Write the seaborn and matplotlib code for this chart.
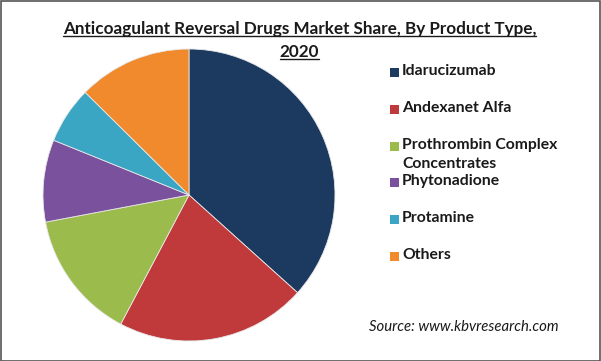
import matplotlib
matplotlib.use("Agg")
import matplotlib.pyplot as plt
import seaborn as sns
from matplotlib.patches import Rectangle
from matplotlib.lines import Line2D

# data (market share, %)
products = ['Idarucizumab', 'Andexanet Alfa', 'Prothrombin Complex\nConcentrates',
            'Phytonadione', 'Protamine', 'Others']
shares = [36.7, 21.1, 14.3, 9.1, 6.3, 12.6]
colors = ['#1c3960', '#c0393b', '#9bbb4c', '#7a519c', '#3aa6c4', '#f08a2c']

title = 'Anticoagulant Reversal Drugs Market Share, By Product Type,'
title_year = '2020'
source = 'Source: www.kbvresearch.com'

sns.set_theme(style="white")
plt.rcParams['font.family'] = ['Lato', 'DejaVu Sans']

W, H = 601, 361
fig = plt.figure(figsize=(W / 100, H / 100), dpi=100)
fig.patch.set_facecolor('white')

# pie axes: center ~ (189, 195) px, radius ~ 146 px
cx, cy, r = 189, 195, 146
ax = fig.add_axes([(cx - r) / W, (H - cy - r) / H, 2 * r / W, 2 * r / H])
ax.pie(shares, colors=colors, startangle=90, counterclock=False, radius=1,
       wedgeprops=dict(edgecolor='#e8e8e8', linewidth=0.6))
ax.set_xlim(-1, 1)
ax.set_ylim(-1, 1)
ax.set_aspect('equal')
ax.axis('off')

# title (bold, underlined)
t1 = fig.text(299.5 / W, 1 - 29 / H, title, ha='center', va='center',
              fontsize=12.3, fontweight='bold', color='#1a1a1a')
t2 = fig.text(299.5 / W, 1 - 52 / H, title_year, ha='center', va='center',
              fontsize=12.3, fontweight='bold', color='#1a1a1a')

# legend drawn as squares + labels, one row per product
for i, (name, col) in enumerate(zip(products, colors)):
    y = 72.5 + i * 36.8
    fig.patches.append(Rectangle((390 / W, 1 - (y + 4.5) / H), 9 / W, 9 / H,
                                 transform=fig.transFigure, facecolor=col,
                                 edgecolor='none'))
    fig.text(402 / W, 1 - (y - 8.5) / H, name, ha='left', va='top',
             fontsize=11.3, fontweight='bold', color='#1a1a1a', linespacing=1.45)

fig.text(369 / W, 1 - 327 / H, source, ha='left', va='center',
         fontsize=10.7, fontstyle='italic', color='#1a1a1a')

# underline the title lines
fig.canvas.draw()
renderer = fig.canvas.get_renderer()
for t in (t1, t2):
    bb = t.get_window_extent(renderer)
    yline = (bb.y0 + 1) / H
    fig.add_artist(Line2D([bb.x0 / W, bb.x1 / W], [yline, yline],
                          transform=fig.transFigure, color='#1a1a1a', linewidth=1))

# thin frame around the whole image
fig.patches.append(Rectangle((0.5 / W, 0.5 / H), 1 - 1.5 / W, 1 - 1.5 / H,
                             transform=fig.transFigure, facecolor='none',
                             edgecolor='#555555', linewidth=1.2))

fig.savefig('out.png', dpi=100)
